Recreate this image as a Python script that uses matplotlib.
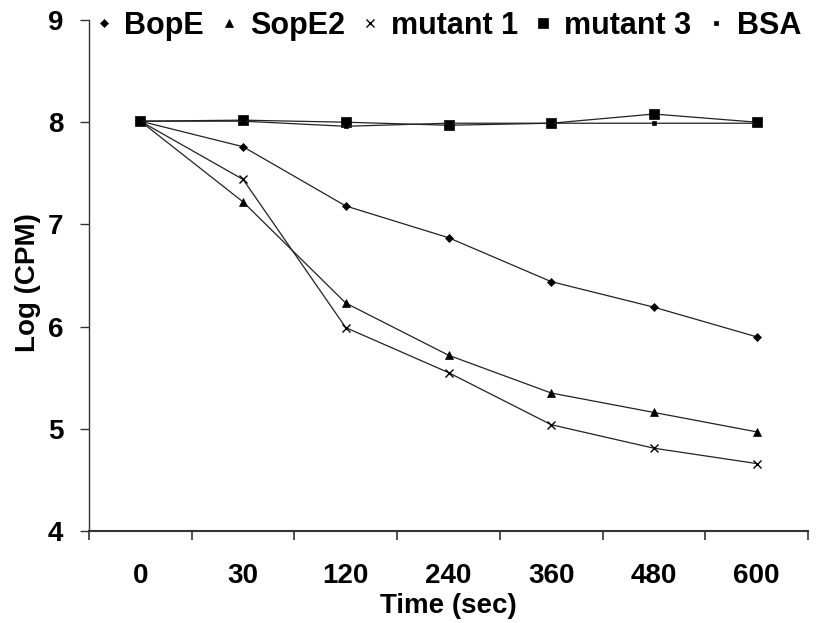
import numpy as np
import matplotlib
matplotlib.use("Agg")
import matplotlib.pyplot as plt
from matplotlib.lines import Line2D
from matplotlib.ticker import FixedLocator

plt.rcParams['font.family'] = ['Liberation Sans', 'DejaVu Sans']
plt.rcParams['font.weight'] = 'bold'

# time points (categorical axis)
times = ['0', '30', '120', '240', '360', '480', '600']

# Log(CPM) values
bope = [8.01, 7.76, 7.18, 6.87, 6.44, 6.19, 5.90]
sope2 = [8.01, 7.22, 6.23, 5.72, 5.35, 5.16, 4.97]
mutant1 = [8.01, 7.44, 5.99, 5.55, 5.04, 4.81, 4.66]
mutant3 = [8.01, 8.02, 8.00, 7.97, 7.99, 8.08, 8.00]
bsa = [8.01, 8.01, 7.96, 7.99, 7.99, 7.99, 7.99]

series = [
    ('BopE', bope, 'D', 4.5),
    ('SopE2', sope2, '^', 5.5),
    ('mutant 1', mutant1, 'x', 6),
    ('mutant 3', mutant3, 's', 7),
    ('BSA', bsa, 's', 3.2),
]

fig = plt.figure(figsize=(8.25, 6.23), dpi=100)
ax = fig.add_axes([89/825, 1 - 531/623, 719/825, 511/623])

x = np.arange(len(times))
for name, vals, mk, ms in series:
    ax.plot(x, vals, color='#222222', lw=0.9, marker=mk, ms=ms,
            mfc='black', mec='black', mew=1.0 if mk == 'x' else 0.5)

ax.set_xlim(-0.5, len(times) - 0.5)
ax.set_ylim(4, 9)
ax.set_yticks([4, 5, 6, 7, 8, 9])

# ticks between categories, labels at category centres
ax.xaxis.set_major_locator(FixedLocator(np.arange(len(times) + 1) - 0.5))
ax.xaxis.set_minor_locator(FixedLocator(x))
ax.set_xticklabels([], minor=False)
ax.set_xticks(x, minor=True)
ax.set_xticklabels(times, minor=True)
ax.tick_params(axis='x', which='major', length=6.5, width=1.2, color='#333333')
ax.tick_params(axis='x', which='minor', length=0, pad=23, labelsize=20)
ax.tick_params(axis='y', length=6.5, width=1.0, color='#333333', pad=12, labelsize=20)

for s in ['top', 'right']:
    ax.spines[s].set_visible(False)
ax.spines['left'].set_color('#333333')
ax.spines['bottom'].set_color('#333333')
ax.spines['left'].set_linewidth(1.0)
ax.spines['bottom'].set_linewidth(1.5)

fig.text(448/825, 1 - 606/623, 'Time (sec)', ha='center', va='center',
         fontsize=20, fontweight='bold')
fig.text(28/825, 1 - 283/623, 'Log (CPM)', ha='center', va='center',
         rotation=90, fontsize=20, fontweight='bold')

handles = [Line2D([], [], ls='none', marker=mk, ms=ms, mfc='black', mec='black',
                  mew=1.0 if mk == 'x' else 0.5, color='black')
           for name, vals, mk, ms in series]
fig.legend(handles, [s[0] for s in series], ncol=5, frameon=False,
           loc='center left', bbox_to_anchor=(97/825, 1 - 26/623),
           fontsize=22, handlelength=0.45, handletextpad=0.45,
           columnspacing=0.6, borderpad=0, borderaxespad=0)

fig.savefig('out.png', dpi=100)
